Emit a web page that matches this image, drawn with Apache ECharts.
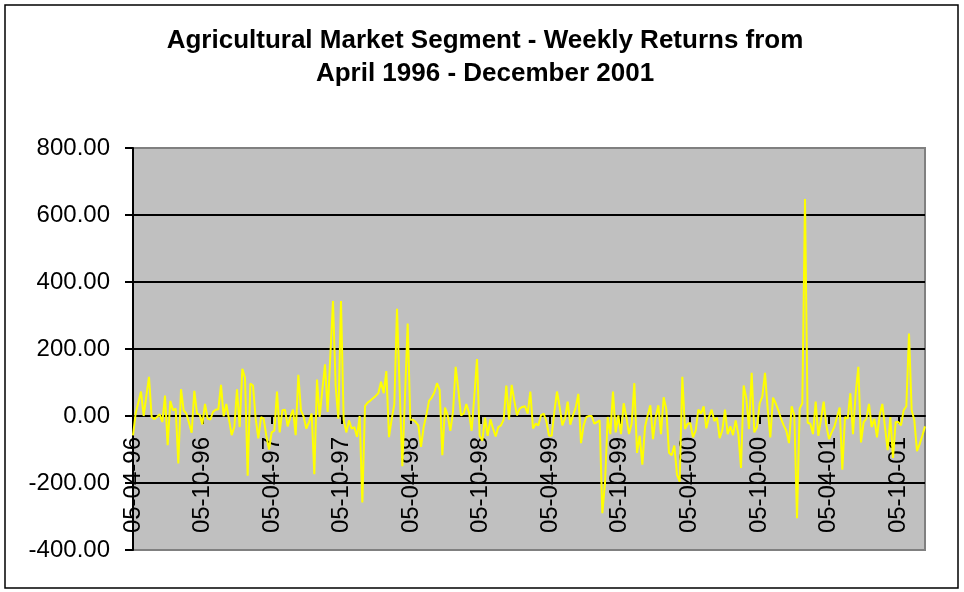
<!DOCTYPE html>
<html>
<head>
<meta charset="utf-8">
<script src="https://cdn.jsdelivr.net/npm/echarts@6/dist/echarts.min.js"></script>
<style>
  html, body { margin: 0; padding: 0; background: #fff; }
  #chart { width: 964px; height: 592px; }
</style>
</head>
<body>
<div id="chart"></div>
<script>
// weekly returns, 05-04-96 .. 14-12-01 (one value per week)
var weeklyReturns = [
  -58, 8, 40, 73, 0, 60, 117, -3, -10, -3, 5, -18, 61, -87, 45, 17, 22, -142, 80, 17,
  7, -20, -50, 75, 7, 4, -25, 36, -8, -11, 12, 19, 20, 93, -1, 36, -10, -57, -33, 80,
  -33, 141, 114, -178, 97, 91, -8, -67, -3, -8, -59, -100, -49, -44, 73, -49, 17, 19, -31, -3,
  19, -57, 123, 17, -2, -38, -18, 7, -174, 109, -3, 78, 154, 12, 180, 343, 88, -8, 343, -11,
  -49, -13, -38, -33, -62, 0, -258, 30, 40, 46, 53, 60, 68, 102, 68, 134, -63, -10, 35, 320,
  80, -150, 60, 276, -11, -11, -18, -28, -92, -33, 2, 45, 55, 70, 98, 78, -117, 25, 2, -44,
  12, 147, 78, 2, 7, 36, 10, -44, 60, 170, -59, -74, -5, -59, -10, -37, -61, -33, -28, -11,
  91, -11, 93, 45, 2, 22, 27, 29, 7, 73, -37, -23, -28, 2, 7, -15, -59, -59, 12, 73,
  27, -28, -8, 43, -26, 2, 25, 66, -81, -28, -3, 0, 0, -23, -18, -13, -290, -201, -3, -54,
  73, -49, 2, -54, 38, -3, -54, -23, 98, -110, -59, -145, -33, 2, 32, -69, -3, 32, -54, 56,
  20, -110, -117, -88, -176, -196, 117, -39, -23, -21, -64, -44, 19, 7, 29, -37, -3, 19, -15, -5,
  -66, -42, 19, -54, -31, -57, -13, -54, -155, 91, 53, -39, 129, -49, -33, 38, 58, 129, 22, -64,
  55, 38, 17, -8, -28, -44, -81, 29, 2, -305, 22, 38, 648, -20, -23, -54, 43, -59, -10, 43,
  -28, -69, -49, -33, -3, 25, -160, -3, -8, 68, -54, 68, 147, -79, -18, -8, 36, -33, -8, -64,
  2, 36, -33, -102, -3, -125, -18, -18, -28, 17, 29, 246, 17, -13, -105, -84, -59, -31
];

// tick labels on the date axis (dd-mm-yy)
var tickLabels = [
  '05-04-96', '05-10-96', '05-04-97', '05-10-97', '05-04-98', '05-10-98',
  '05-04-99', '05-10-99', '05-04-00', '05-10-00', '05-04-01', '05-10-01'
];

var yTicks = [-400, -200, 0, 200, 400, 600, 800];

var DAY = 86400000;
var startDate = new Date(1996, 3, 5);

function parseDmy(s) {
  var p = s.split('-');
  var yy = +p[2];
  return new Date(yy > 50 ? 1900 + yy : 2000 + yy, +p[1] - 1, +p[0]);
}
function pad(n) { return (n < 10 ? '0' : '') + n; }
// days since the first week
function dayOffset(d) { return Math.round((d.getTime() - startDate.getTime()) / DAY); }

var seriesData = weeklyReturns.map(function (v, i) { return [i * 7, v]; });
var tickDays = tickLabels.map(function (s) { return dayOffset(parseDmy(s)); });

var font = '"Liberation Sans", Arial, sans-serif';

var gridTop = 148, gridBottom = 42, chartH = 592;
var gridH = chartH - gridTop - gridBottom;
var yMin = yTicks[0], yMax = yTicks[yTicks.length - 1];
// x axis crosses the value axis at zero (like Excel)
var xAxisOffset = -gridH * (0 - yMin) / (yMax - yMin);

var chart = echarts.init(document.getElementById('chart'), null, { renderer: 'canvas' });
chart.setOption({
  animation: false,
  backgroundColor: '#ffffff',
  title: {
    text: 'Agricultural Market Segment - Weekly Returns from\nApril 1996 - December 2001',
    left: 485,
    textAlign: 'center',
    top: 24,
    padding: 0,
    textStyle: {
      fontFamily: font,
      fontWeight: 'bold',
      fontSize: 26,
      lineHeight: 33,
      color: '#000'
    }
  },
  graphic: [{
    type: 'rect',
    shape: { x: 5, y: 5, width: 953, height: 583 },
    style: { fill: 'none', stroke: '#000', lineWidth: 1.5 },
    silent: true
  }],
  grid: {
    left: 133,
    right: 39,
    top: gridTop,
    bottom: gridBottom,
    containLabel: false,
    outerBoundsMode: 'none',
    show: true,
    backgroundColor: '#c0c0c0',
    borderColor: '#808080',
    borderWidth: 2
  },
  xAxis: {
    type: 'value',
    min: 0,
    max: (weeklyReturns.length - 1) * 7,
    position: 'bottom',
    offset: xAxisOffset,
    axisLine: { onZero: false, lineStyle: { color: '#000', width: 2 } },
    axisTick: {
      show: true,
      customValues: tickDays,
      length: 8,
      lineStyle: { color: '#000', width: 2 }
    },
    axisLabel: {
      customValues: tickDays,
      rotate: 90,
      margin: 21,
      fontFamily: font,
      fontSize: 24,
      color: '#000',
      formatter: function (val) {
        var d = new Date(startDate.getFullYear(), startDate.getMonth(), startDate.getDate() + val);
        return pad(d.getDate()) + '-' + pad(d.getMonth() + 1) + '-' + pad(d.getFullYear() % 100);
      }
    },
    splitLine: { show: false }
  },
  yAxis: {
    type: 'value',
    min: yMin,
    max: yMax,
    interval: 200,
    axisLine: { show: true, onZero: false, lineStyle: { color: '#000', width: 2 } },
    axisTick: { show: true, length: 8, lineStyle: { color: '#000', width: 2 } },
    axisLabel: {
      margin: 23,
      fontFamily: font,
      fontSize: 24,
      color: '#000',
      formatter: function (v) { return v.toFixed(2); }
    },
    splitLine: {
      show: true,
      lineStyle: {
        color: ['#808080', '#000', '#000', '#000', '#000', '#000', '#808080'],
        width: 2
      }
    }
  },
  series: [{
    type: 'line',
    data: seriesData,
    showSymbol: false,
    symbol: 'none',
    lineStyle: { color: '#ffff00', width: 2 },
    z: 5
  }]
});
</script>
</body>
</html>
